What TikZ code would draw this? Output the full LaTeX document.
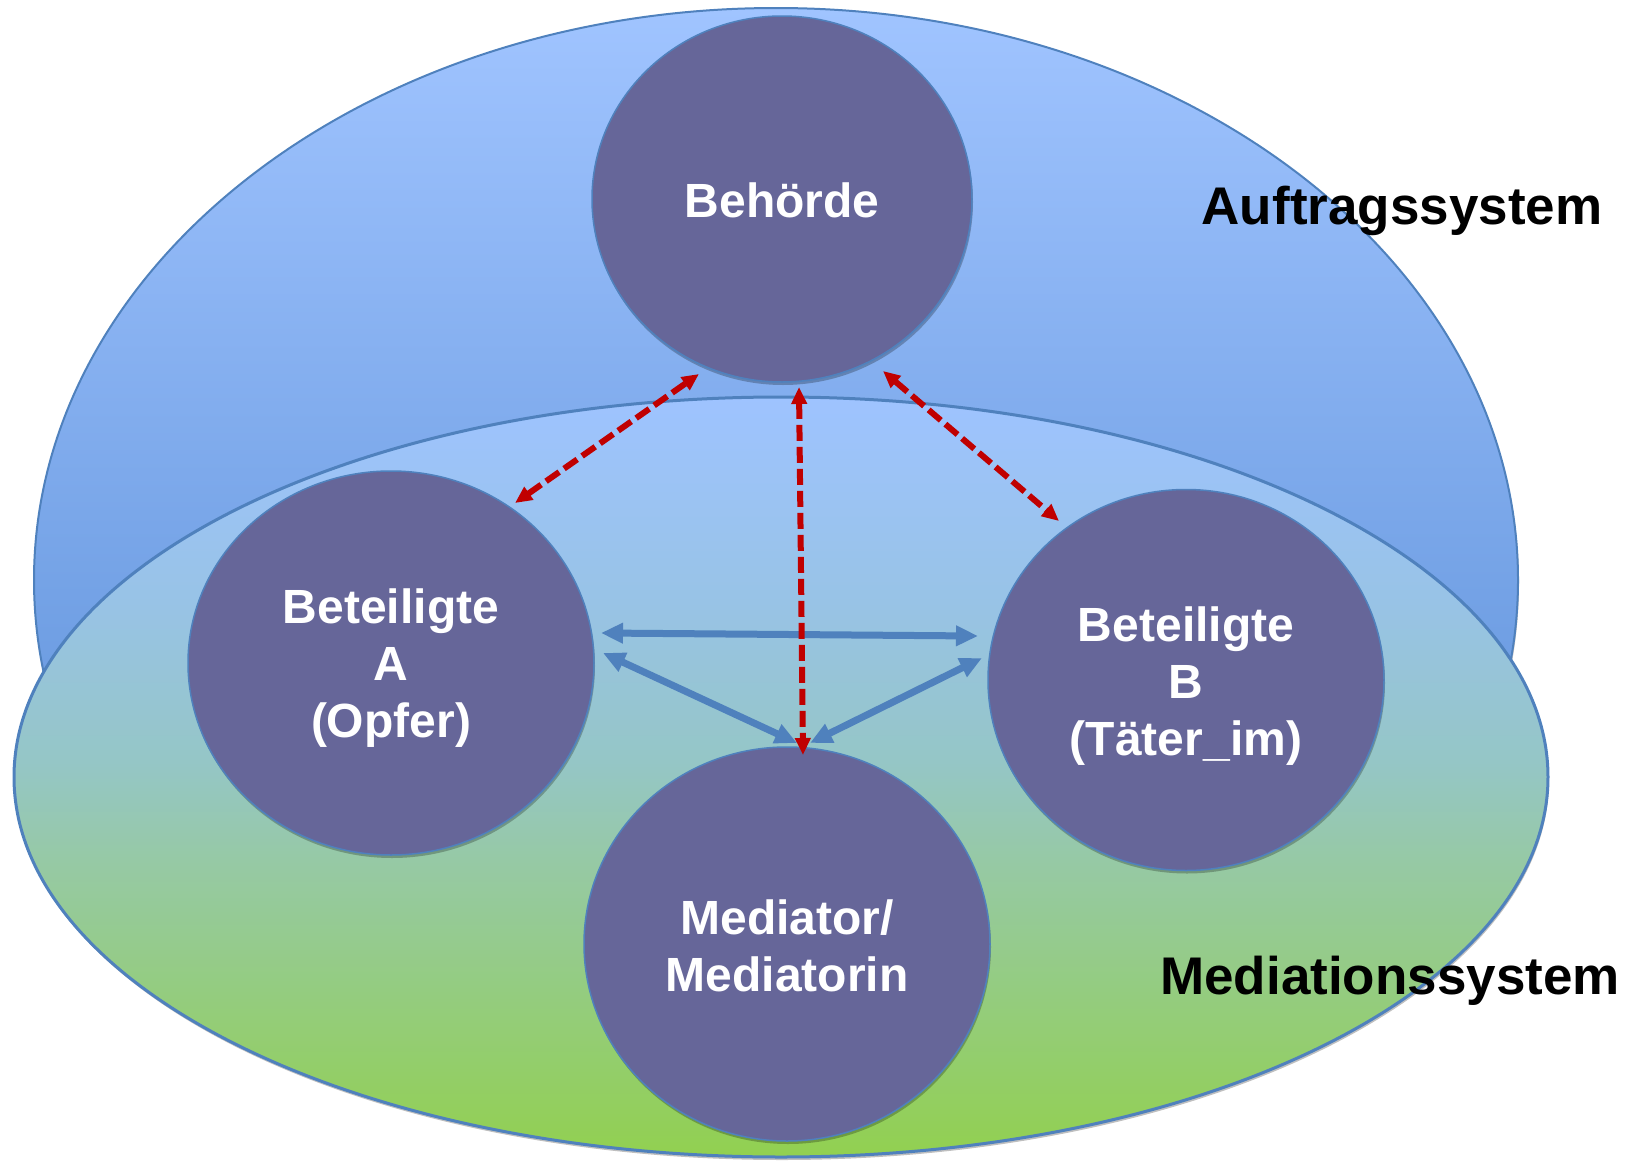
\documentclass[tikz,border=0pt]{standalone}
\usepackage{fontspec}
\setmainfont{Liberation Sans}
\usetikzlibrary{shapes.geometric,arrows.meta,shadows}
\definecolor{circfill}{HTML}{666699}
\definecolor{edgeblue}{HTML}{4F81BD}
\definecolor{dred}{HTML}{C00000}
\definecolor{outtop}{HTML}{A0C4FF}
\definecolor{outbot}{HTML}{4A82CE}
\definecolor{intop}{HTML}{9EC3FF}
\definecolor{inq1}{HTML}{98C3E6}
\definecolor{inmid}{HTML}{95C6C6}
\definecolor{inq3}{HTML}{96C9A5}
\definecolor{inbot}{HTML}{92D050}
\pgfdeclareverticalshading{medshade}{100bp}{color(0bp)=(inbot); color(25bp)=(inbot); color(44.5bp)=(inq3); color(51bp)=(inmid); color(61.5bp)=(inq1); color(75bp)=(intop); color(100bp)=(intop)}
\tikzset{
  softshadow/.style={drop shadow={shadow xshift=1pt, shadow yshift=-3pt, opacity=0.25, fill=black}},
  bubbletext/.style={text=white, align=center, font=\fontsize{48}{57}\selectfont\bfseries, inner sep=0pt},
  bubble/.style={ellipse, draw=edgeblue, line width=1.5pt, fill=circfill, inner sep=0pt, softshadow},
  syslabel/.style={font=\fontsize{53}{60}\selectfont\bfseries, text=black, inner sep=0pt},
  bluearrow/.style={draw=edgeblue, line width=7pt, {Triangle[length=22pt,width=19.5pt]}-{Triangle[length=22pt,width=19.5pt]}},
  redarrow/.style={draw=dred, line width=6pt, dash pattern=on 16pt off 6pt, {Triangle[length=17pt,width=15pt]}-{Triangle[length=17pt,width=15pt]}}
}
\begin{document}
\begin{tikzpicture}[x=1pt,y=-1pt]
\useasboundingbox (0,0) rectangle (1634,1162);
% system ellipses
\node[ellipse, draw=edgeblue, line width=2pt, top color=outtop, bottom color=outbot,
      minimum width=1484pt, minimum height=1144pt, softshadow] (auf) at (776,580) {};
\node[ellipse, draw=edgeblue, line width=3pt, shading=medshade,
      minimum width=1534pt, minimum height=760pt, softshadow] (medsys) at (781,777) {};
% labels
\node[syslabel] (lauf) at (1402,211) {Auftragssystem};
\node[syslabel] (lmed) at (1390,981) {Mediationssystem};
% bubbles
\node[bubble, minimum width=380pt, minimum height=366pt,
      label={[bubbletext, yshift=-1pt]center:{Behörde}}] (beh) at (782,199) {};
\node[bubble, minimum width=406pt, minimum height=384pt,
      label={[bubbletext, yshift=-5pt]center:{Beteiligte\\A\\(Opfer)}}] (A) at (391,663) {};
\node[bubble, minimum width=396pt, minimum height=381pt,
      label={[bubbletext, yshift=-6pt]center:{Beteiligte\\B\\(Täter\_im)}}] (B) at (1186,680) {};
\node[bubble, minimum width=406pt, minimum height=394pt,
      label={[bubbletext, yshift=-2pt]center:{Mediator/\\Mediatorin}}] (med) at (787,944) {};
% blue arrows
\draw[bluearrow] ([shift={(210,-30)}]A.center) -- ([shift={(-208,-44)}]B.center);
\draw[bluearrow] ([shift={(212,-10)}]A.center) -- ([shift={(10,-201)}]med.center);
\draw[bluearrow] ([shift={(-204,-22)}]B.center) -- ([shift={(23,-201)}]med.center);
% red arrows
\draw[redarrow] ([shift={(124,-160)}]A.center) -- ([shift={(-83,175)}]beh.center);
\draw[redarrow] ([shift={(17,188)}]beh.center) -- ([shift={(16,-189)}]med.center);
\draw[redarrow] ([shift={(101,172)}]beh.center) -- ([shift={(-127,-159)}]B.center);
\end{tikzpicture}
\end{document}
